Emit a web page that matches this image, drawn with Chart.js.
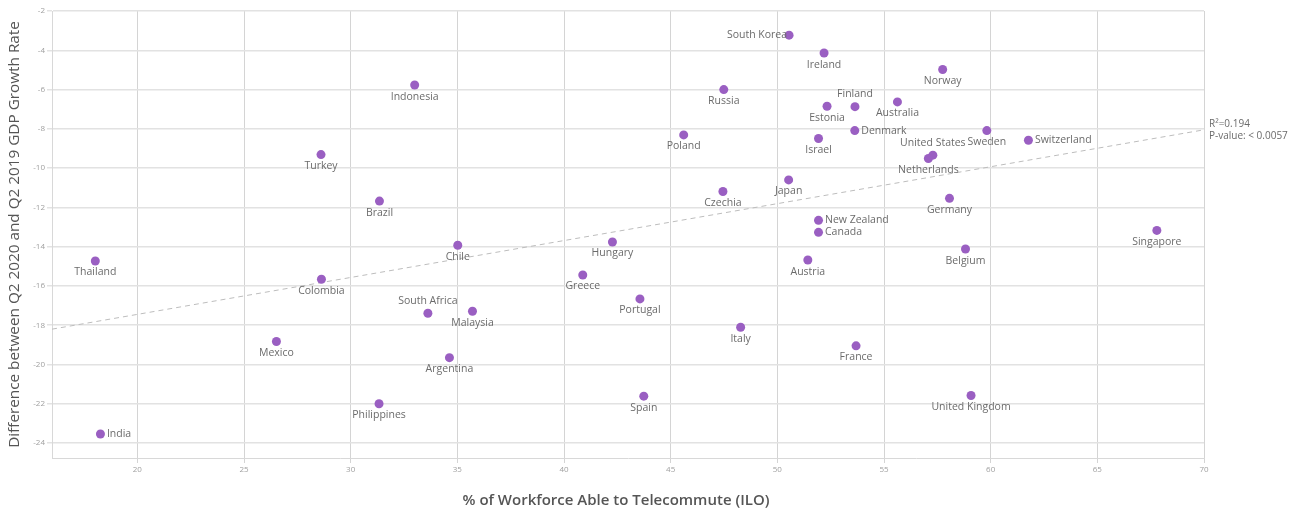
<!DOCTYPE html>
<html>
<head>
<meta charset="utf-8">
<script src="https://cdn.jsdelivr.net/npm/chart.js@4/dist/chart.umd.min.js"></script>
<style>
  html, body { margin: 0; padding: 0; background: #ffffff; }
  #c { display: block; }
</style>
</head>
<body>
<canvas id="c" width="1307" height="512"></canvas>
<script>
// Country, share of workforce able to telecommute (%), change in GDP growth (pp)
const countries = [
  'South Korea', 'Ireland', 'Norway', 'Indonesia', 'Russia', 'Estonia', 'Finland',
  'Australia', 'Denmark', 'Poland', 'Israel', 'Sweden', 'Switzerland', 'United States',
  'Netherlands', 'Turkey', 'Japan', 'Czechia', 'Brazil', 'Germany', 'New Zealand',
  'Canada', 'Singapore', 'Chile', 'Hungary', 'Belgium', 'Thailand', 'Austria',
  'Greece', 'Colombia', 'Portugal', 'South Africa', 'Malaysia', 'Italy', 'Mexico',
  'France', 'Argentina', 'Philippines', 'Spain', 'United Kingdom', 'India'
];
const telecommutePct = [
  50.55, 52.19, 57.75, 33.0, 47.49, 52.33, 53.64,
  55.63, 53.63, 45.61, 51.93, 59.82, 61.77, 57.29,
  57.08, 28.61, 50.53, 47.45, 31.35, 58.07, 51.93,
  51.93, 67.79, 35.02, 42.27, 58.82, 18.03, 51.43,
  40.88, 28.63, 43.56, 33.62, 35.71, 48.28, 26.52,
  53.69, 34.63, 31.33, 43.74, 59.08, 18.27
];
const gdpGrowthDiff = [
  -3.23, -4.14, -4.98, -5.77, -6.0, -6.85, -6.87,
  -6.63, -8.09, -8.31, -8.49, -8.09, -8.58, -9.34,
  -9.51, -9.31, -10.6, -11.19, -11.68, -11.54, -12.66,
  -13.27, -13.17, -13.93, -13.76, -14.12, -14.73, -14.68,
  -15.44, -15.66, -16.66, -17.39, -17.29, -18.1, -18.83,
  -19.05, -19.65, -22.0, -21.61, -21.58, -23.54
];

// Axis ticks
const xTicks = [20, 25, 30, 35, 40, 45, 50, 55, 60, 65, 70];
const yTicks = [-2, -4, -6, -8, -10, -12, -14, -16, -18, -20, -22, -24];

// Linear fit endpoints and its statistics
const trendX = [16, 70];
const trendY = [-18.2, -8.05];
const fitStats = ['R\u00B2=0.194', 'P-value: < 0.0057'];

const xTitle = '% of Workforce Able to Telecommute (ILO)';
const yTitle = 'Difference between Q2 2020 and Q2 2019 GDP Growth Rate';

// Where each country name sits relative to its dot (default: below)
const labelSide = {
  'South Korea': 'left',
  'India': 'right',
  'Denmark': 'right',
  'New Zealand': 'right',
  'Canada': 'right',
  'Switzerland': 'right',
  'Finland': 'above',
  'South Africa': 'above',
  'United States': 'above'
};

const FONT = '"Open Sans", "DejaVu Sans", sans-serif';

const pointLabels = {
  id: 'pointLabels',
  afterDatasetsDraw(chart) {
    const ctx = chart.ctx;
    const meta = chart.getDatasetMeta(0);
    ctx.save();
    ctx.font = '10.5px ' + FONT;
    ctx.fillStyle = '#6b6b6b';
    meta.data.forEach((el, i) => {
      const name = countries[i];
      const side = labelSide[name] || 'below';
      let x = el.x, y = el.y;
      if (side === 'below') { ctx.textAlign = 'center'; ctx.textBaseline = 'middle'; y += 11.5; }
      else if (side === 'above') { ctx.textAlign = 'center'; ctx.textBaseline = 'middle'; y -= 12.5; }
      else if (side === 'right') { ctx.textAlign = 'left'; ctx.textBaseline = 'middle'; x += 6.5; }
      else { ctx.textAlign = 'right'; ctx.textBaseline = 'middle'; x -= 2; }
      ctx.fillText(name, x, y);
    });

    // fit statistics at the end of the trend line
    const sx = chart.scales.x.getPixelForValue(trendX[1]);
    const sy = chart.scales.y.getPixelForValue(trendY[1]);
    ctx.font = '10px ' + FONT;
    ctx.textAlign = 'left';
    ctx.textBaseline = 'middle';
    ctx.fillText(fitStats[0], sx + 5, sy - 5.5);
    ctx.fillText(fitStats[1], sx + 5, sy + 6);

    // horizontal axis title
    ctx.font = '600 15px ' + FONT;
    ctx.fillStyle = '#555555';
    ctx.textAlign = 'center';
    ctx.fillText(xTitle, 616, 501);
    ctx.restore();
  }
};

new Chart(document.getElementById('c'), {
  type: 'scatter',
  data: {
    datasets: [
      {
        label: 'Countries',
        data: countries.map((c, i) => ({ x: telecommutePct[i], y: gdpGrowthDiff[i] })),
        backgroundColor: '#9a5fc2',
        borderWidth: 0,
        pointRadius: 4.5,
        pointHoverRadius: 4.5,
        order: 1
      },
      {
        type: 'line',
        label: 'Trend',
        data: trendX.map((x, i) => ({ x: x, y: trendY[i] })),
        borderColor: '#bdbdbd',
        borderWidth: 1,
        borderDash: [5, 4],
        pointRadius: 0,
        fill: false,
        order: 2
      }
    ]
  },
  options: {
    responsive: false,
    animation: false,
    layout: { padding: { top: 11, right: 103, left: 0, bottom: 0 } },
    plugins: {
      legend: { display: false },
      tooltip: { enabled: false }
    },
    scales: {
      x: {
        type: 'linear',
        min: 16,
        max: 70,
        afterBuildTicks(scale) { scale.ticks = xTicks.map(v => ({ value: v })); },
        afterFit(scale) { scale.height = 54; },
        ticks: {
          color: '#a0a0a0',
          font: { size: 8, family: FONT },
          padding: 2,
          maxRotation: 0
        },
        grid: { color: '#d4d4d4', lineWidth: 1, tickLength: 5 },
        border: { color: '#d8d8d8' },
        title: { display: false }
      },
      y: {
        type: 'linear',
        min: -24.76,
        max: -2,
        afterBuildTicks(scale) { scale.ticks = yTicks.map(v => ({ value: v })); },
        afterFit(scale) { scale.width = 52; },
        ticks: {
          color: '#a0a0a0',
          font: { size: 8, family: FONT },
          padding: 2
        },
        grid: { color: '#e2e2e2', lineWidth: 1.5, tickLength: 5 },
        border: { color: '#d8d8d8' },
        title: {
          display: true,
          text: yTitle,
          color: '#555555',
          font: { size: 15.3, family: FONT },
          padding: { top: 5, bottom: 0 }
        }
      }
    }
  },
  plugins: [pointLabels]
});
</script>
</body>
</html>
